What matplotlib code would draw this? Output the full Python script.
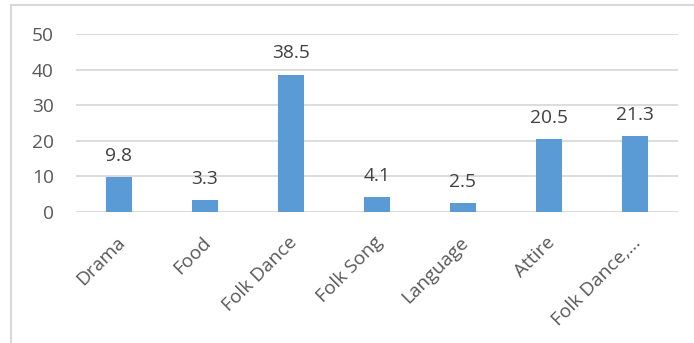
import matplotlib.pyplot as plt
from matplotlib.lines import Line2D
from matplotlib.transforms import ScaledTranslation

categories = ["Drama", "Food", "Folk Dance", "Folk Song", "Language", "Attire", "Folk Dance,…"]
values = [9.8, 3.3, 38.5, 4.1, 2.5, 20.5, 21.3]
yticks = [0, 10, 20, 30, 40, 50]

txt = "#595959"
grid = "#d9d9d9"
plt.rcParams['font.family'] = ['Open Sans', 'DejaVu Sans']

fig = plt.figure(figsize=(6.94, 3.43), dpi=100)
ax = fig.add_axes([76/694, 1-212/343, 602/694, 178/343])

x = range(len(categories))
ax.bar(x, values, width=0.31, color="#5b9bd5", zorder=3)
for i, v in zip(x, values):
    ax.annotate(f"{v}", (i, v), xytext=(0, 9), textcoords="offset points",
                ha="center", va="bottom", fontsize=13.8, color="#404040")

ax.set_xlim(-0.5, len(categories) - 0.5)
ax.set_ylim(0, 50)
ax.set_yticks(yticks)
ax.yaxis.grid(True, color=grid, linewidth=1.3, zorder=0)
ax.set_axisbelow(True)
for s in ax.spines.values():
    s.set_visible(False)
ax.tick_params(axis="both", length=0, colors=txt, labelsize=13.8)
ax.tick_params(axis="y", pad=16)
ax.set_xticks(list(x))
ax.set_xticklabels(categories, rotation=45, ha="right", va="center",
                   rotation_mode="anchor")
ax.tick_params(axis="x", pad=20)
shift = ScaledTranslation(3/100, 0, fig.dpi_scale_trans)
for lab in ax.get_xticklabels():
    lab.set_transform(lab.get_transform() + shift)

# chart frame (only left and top edges show in the crop)
fig.add_artist(Line2D([11/694, 11/694], [0, 1-5/343], color=grid, lw=1.5))
fig.add_artist(Line2D([11/694, 1], [1-5/343, 1-5/343], color=grid, lw=1.5))

fig.savefig("out.png", dpi=100)
